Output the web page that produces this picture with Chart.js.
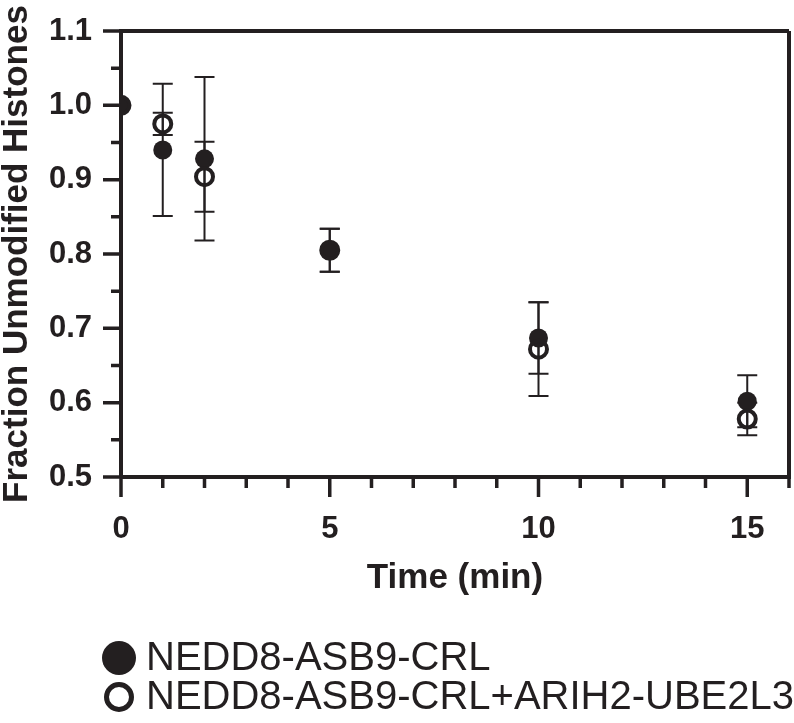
<!DOCTYPE html>
<html>
<head>
<meta charset="utf-8">
<script src="https://cdn.jsdelivr.net/npm/chart.js@4/dist/chart.umd.min.js"></script>
<style>
  body { margin: 0; background: #fff; }
  #wrap { width: 794px; height: 723px; }
</style>
</head>
<body>
<div id="wrap"><canvas id="myChart"></canvas></div>
<script>
const timeMin = [0, 1, 2, 5, 10, 15]

const crlLabel = 'NEDD8-ASB9-CRL'
const crlMean = [1.0, 0.94, 0.928, 0.805, 0.687, 0.602]
const crlErr = [0, 0.089, 0.11, 0.029, 0.048, 0.035]

const ariLabel = 'NEDD8-ASB9-CRL+ARIH2-UBE2L3'
const ariMean = [1.0, 0.975, 0.904, 0.805, 0.672, 0.578]
const ariErr = [0, 0.015, 0.047, 0.029, 0.063, 0.022]

const xTicks = [0, 1, 2, 3, 4, 5, 6, 7, 8, 9, 10, 11, 12, 13, 14, 15, 16]
const xLabels = [0, 5, 10, 15]
const yTicks = [0.5, 0.55, 0.6, 0.65, 0.7, 0.75, 0.8, 0.85, 0.9, 0.95, 1.0, 1.05, 1.1]
const yLabels = [0.5, 0.6, 0.7, 0.8, 0.9, 1.0, 1.1]

const INK = '#231f20'
const FONT = '"Liberation Sans", Arial, sans-serif'

const toPoints = (means) => timeMin.map((t, i) => ({ x: t, y: means[i] }))
const isLabel = (list, v) => list.some(l => Math.abs(l - v) < 1e-6)
const noPad = (scale) => {
    scale.paddingTop = 0
    scale.paddingBottom = 0
    scale.paddingLeft = 0
    scale.paddingRight = 0
}

// error bars drawn under the symbols
const errorBars = {
    id: 'errorBars',
    beforeDatasetsDraw(chart) {
        const ctx = chart.ctx
        const xs = chart.scales.x
        const ys = chart.scales.y
        const errs = [crlErr, ariErr]
        ctx.save()
        ctx.strokeStyle = INK
        ctx.lineWidth = 2
        chart.data.datasets.forEach((ds, d) => {
            ds.data.forEach((p, i) => {
                const e = errs[d][i]
                if (!e) return
                const px = xs.getPixelForValue(p.x)
                const top = ys.getPixelForValue(p.y + e)
                const bot = ys.getPixelForValue(p.y - e)
                ctx.beginPath()
                ctx.moveTo(px, top); ctx.lineTo(px, bot)
                ctx.moveTo(px - 10, top); ctx.lineTo(px + 10, top)
                ctx.moveTo(px - 10, bot); ctx.lineTo(px + 10, bot)
                ctx.stroke()
            })
        })
        ctx.restore()
    }
}

// frame, tick marks and legend
const frame = {
    id: 'frame',
    afterDraw(chart) {
        const ctx = chart.ctx
        const a = chart.chartArea
        const xs = chart.scales.x
        const ys = chart.scales.y
        ctx.save()
        ctx.strokeStyle = INK
        ctx.lineCap = 'butt'
        ctx.lineWidth = 4
        ctx.beginPath()
        ctx.moveTo(a.left, a.top); ctx.lineTo(a.right, a.top)
        ctx.moveTo(a.right, a.top); ctx.lineTo(a.right, a.bottom)
        ctx.moveTo(a.left, a.top - 2); ctx.lineTo(a.left, a.bottom)
        ctx.moveTo(a.left, a.bottom); ctx.lineTo(a.right + 2, a.bottom)
        ctx.stroke()

        ctx.lineWidth = 3.5
        ctx.beginPath()
        xTicks.forEach(v => {
            const px = xs.getPixelForValue(v)
            const len = isLabel(xLabels, v) ? 20 : 11
            ctx.moveTo(px, a.bottom); ctx.lineTo(px, a.bottom + len)
        })
        yTicks.forEach(v => {
            const py = ys.getPixelForValue(v)
            const len = isLabel(yLabels, v) ? 18 : 10
            ctx.moveTo(a.left - len, py); ctx.lineTo(a.left, py)
        })
        ctx.stroke()

        // legend
        const rows = [658, 697]
        ctx.font = '40px ' + FONT
        ctx.textBaseline = 'middle'
        ctx.fillStyle = INK
        chart.data.datasets.forEach((ds, d) => {
            const cy = rows[d]
            ctx.beginPath()
            if (d === 0) {
                ctx.arc(119, cy, 17, 0, Math.PI * 2)
                ctx.fill()
            } else {
                ctx.lineWidth = 5
                ctx.arc(119, cy, 12.5, 0, Math.PI * 2)
                ctx.stroke()
            }
            ctx.fillText(ds.label, 146, cy + 1)
        })
        ctx.restore()
    }
}

const ctx = document.getElementById('myChart')
const myChart = new Chart(ctx, {
    type: 'scatter',
    data: {
        datasets: [{
            label: crlLabel,
            data: toPoints(crlMean),
            pointRadius: 9.5,
            pointBackgroundColor: INK,
            pointBorderColor: INK,
            pointBorderWidth: 0,
            order: 2
        }, {
            label: ariLabel,
            data: toPoints(ariMean),
            pointRadius: 8.5,
            pointBackgroundColor: 'rgba(0,0,0,0)',
            pointBorderColor: INK,
            pointBorderWidth: 4,
            order: 1
        }]
    },
    options: {
        responsive: true,
        maintainAspectRatio: false,
        animation: false,
        layout: { autoPadding: false, padding: { top: 31, right: 5, left: 0, bottom: 0 } },
        plugins: {
            legend: { display: false },
            tooltip: { enabled: false }
        },
        scales: {
            x: {
                type: 'linear',
                min: 0,
                max: 16,
                afterBuildTicks: (scale) => { scale.ticks = xTicks.map(v => ({ value: v })) },
                afterFit: (scale) => { scale.height = 246; noPad(scale) },
                grid: { display: false, drawTicks: false },
                border: { display: false },
                ticks: {
                    color: INK,
                    font: { family: FONT, size: 31, weight: 'bold' },
                    padding: 34,
                    maxRotation: 0,
                    autoSkip: false,
                    callback: (v) => isLabel(xLabels, v) ? String(v) : ''
                },
                title: {
                    display: true,
                    text: 'Time (min)',
                    color: INK,
                    font: { family: FONT, size: 35, weight: 'bold', lineHeight: 1 },
                    padding: { top: 0, bottom: 127 }
                }
            },
            y: {
                type: 'linear',
                min: 0.5,
                max: 1.1,
                afterBuildTicks: (scale) => { scale.ticks = yTicks.map(v => ({ value: v })) },
                afterFit: (scale) => { scale.width = 121; noPad(scale) },
                grid: { display: false, drawTicks: false },
                border: { display: false },
                ticks: {
                    color: INK,
                    font: { family: FONT, size: 31, weight: 'bold' },
                    padding: 29,
                    autoSkip: false,
                    callback: (v) => isLabel(yLabels, v) ? v.toFixed(1) : ''
                },
                title: {
                    display: true,
                    text: 'Fraction Unmodified Histones',
                    color: INK,
                    font: { family: FONT, size: 35, weight: 'bold', lineHeight: 1 },
                    padding: { top: 0, bottom: 0 }
                }
            }
        }
    },
    plugins: [errorBars, frame]
})
</script>
</body>
</html>
